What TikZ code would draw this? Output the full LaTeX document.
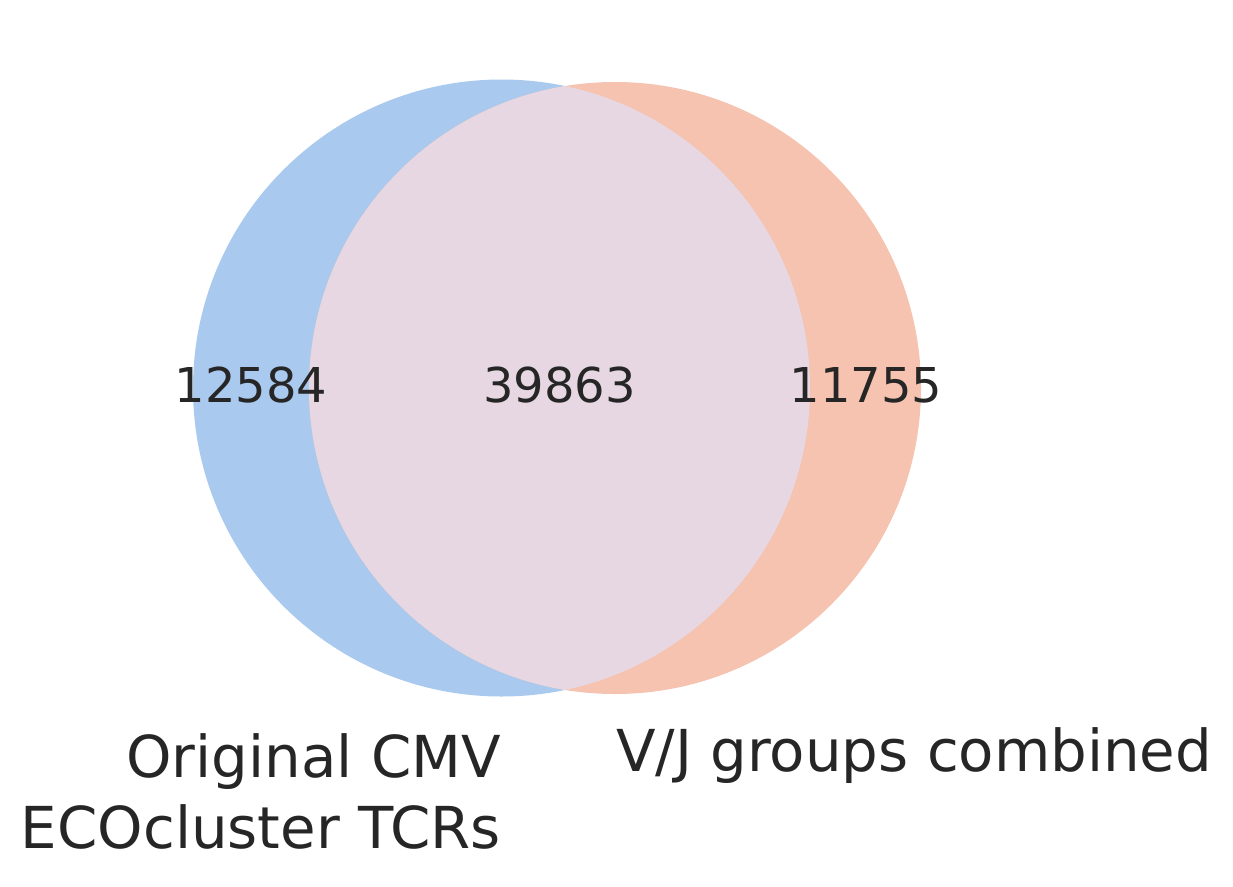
\documentclass[tikz,border=0pt]{standalone}
\usepackage{fontspec}
\setmainfont{DejaVu Sans}
\usepackage{tikz}
\usetikzlibrary{calc}

\definecolor{vennblue}{HTML}{AAC9EE}
\definecolor{vennorange}{HTML}{F5C3AF}
\definecolor{vennmix}{HTML}{E7D7E2}
\definecolor{venntext}{HTML}{262626}

\begin{document}
\begin{tikzpicture}[
    x=1pt,
    y=-1pt,
    setA/.style={
        fill=vennblue
    },
    setB/.style={
        fill=vennorange
    },
    setAB/.style={
        fill=vennmix
    },
    count/.style={
        font=\fontsize{48}{57}\selectfont,
        text=venntext,
        inner sep=0pt,
        anchor=base
    },
    setname/.style={
        font=\fontsize{57.8}{70.5}\selectfont,
        text=venntext,
        inner sep=0pt
    }
]

\useasboundingbox (0,0) rectangle (1233,886);

% =====================================================
% Circle centres
% =====================================================

\coordinate (CA) at (501.5,388);
\coordinate (CB) at (615,388);

% =====================================================
% Sets
% =====================================================

\fill[setA] (CA) circle [radius=308.5];
\fill[setB] (CB) circle [radius=306];

\begin{scope}
  \clip (CA) circle [radius=308.5];
  \fill[setAB] (CB) circle [radius=306];
\end{scope}

% =====================================================
% Counts
% =====================================================

\node[count] (onlyA) at (251,402) {12584};
\node[count] (both) at (559.5,402) {39863};
\node[count] (onlyB) at (866,402) {11755};

% =====================================================
% Set names
% =====================================================

\node[setname, align=right, anchor=base east] (nameA) at (501,848)
  {Original CMV\\ECOcluster TCRs};
\node[setname, anchor=base west] (nameB) at (616,771) {V/J groups combined};

\end{tikzpicture}
\end{document}
